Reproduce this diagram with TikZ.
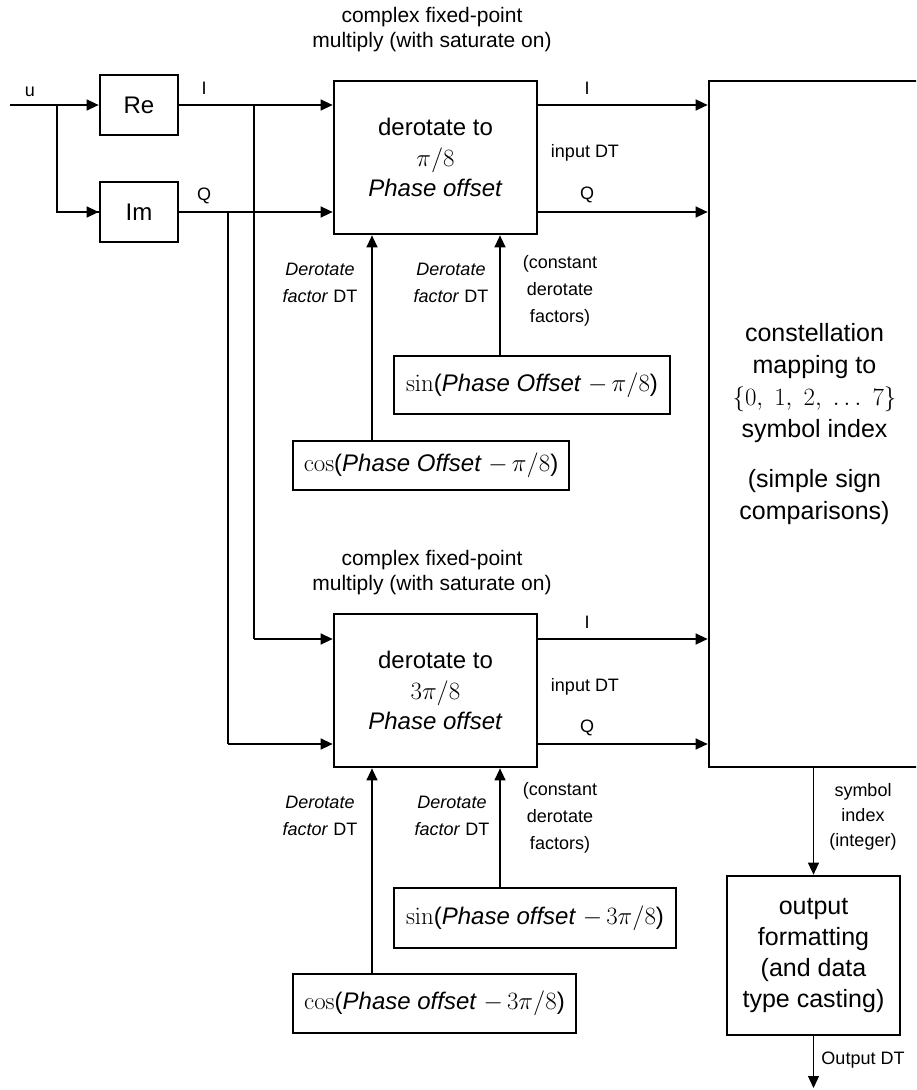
\documentclass[tikz,border=0pt]{standalone}
\usepackage[no-math]{fontspec}
\setmainfont{Liberation Sans}
\usetikzlibrary{arrows.meta}
\begin{document}
\begin{tikzpicture}[x=1pt,y=-1pt,
  box/.style={draw, line width=2.7pt, inner sep=0pt, align=center},
  boxtxt/.style={font=\fontsize{24}{30.5}\selectfont},
  arr/.style={line width=1.3pt, -{Triangle[length=12pt,width=11pt]}},
  ln/.style={line width=1.3pt},
  med/.style={font=\fontsize{21}{25}\selectfont, align=center, inner sep=0pt},
  lbl/.style={font=\fontsize{18}{27}\selectfont, align=center, inner sep=0pt},
]
\useasboundingbox (0,0) rectangle (916,1090);
\clip (0,0) rectangle (916,1090);

% blocks
\node[box, boxtxt, minimum width=78pt, minimum height=60pt] (re) at (139,105) {Re};
\node[box, boxtxt, minimum width=78pt, minimum height=60pt] (im) at (139,212) {Im};
\node[box, boxtxt, minimum width=203pt, minimum height=153pt] (rot1) at (435.5,157.5)
  {derotate to\\ $\pi/8$\\ \textit{Phase offset}};
\node[box, boxtxt, minimum width=203pt, minimum height=153pt] (rot2) at (435.5,690.5)
  {derotate to\\ $3\pi/8$\\ \textit{Phase offset}};
\node[box, boxtxt, minimum width=276pt, minimum height=49pt] (cos1) at (431,465.5)
  {$\cos$(\textit{Phase Offset} $-\,\pi/8$)};
\node[box, boxtxt, minimum width=276pt, minimum height=58pt] (sin1) at (532,385)
  {$\sin$(\textit{Phase Offset} $-\,\pi/8$)};
\node[box, boxtxt, minimum width=283pt, minimum height=59pt] (cos2) at (434.5,1003.5)
  {$\cos$(\textit{Phase offset} $-\,3\pi/8$)};
\node[box, boxtxt, minimum width=282pt, minimum height=60pt] (sin2) at (535,918)
  {$\sin$(\textit{Phase offset} $-\,3\pi/8$)};
\node[box, font=\fontsize{25}{32}\selectfont, minimum width=211pt, minimum height=686pt] (big) at (814.5,424)
  {constellation\\ mapping to\\ $\{0,\ 1,\ 2,\ \ldots\ 7\}$\\ symbol index\\[18pt] (simple sign\\ comparisons)};
\node[box, font=\fontsize{25}{31}\selectfont, minimum width=173pt, minimum height=159pt] (out) at (813.5,955.5)
  {output\\ formatting\\ (and data\\ type casting)};

% helper coordinates
\coordinate (uin) at (10,105);
\coordinate (br) at (57,105);
\coordinate (xi) at (254,0);
\coordinate (xq) at (228,0);
\coordinate (xc) at (372,0);
\coordinate (xs) at (500,0);
\coordinate (yout) at (0,1088);

% input split
\draw[arr] (uin) -- (re);
\draw[ln] (br) |- (im.west);
\draw[arr] (br |- im.west) -- (im.west);

% I and Q paths
\draw[arr] (re.east) -- (rot1.west |- re.east);
\draw[arr] (im.east) -- (rot1.west |- im.east);
\coordinate (i2) at (rot2.north west |- 0,639);
\coordinate (q2) at (rot2.north west |- 0,744);
\draw[ln] (re.east -| xi) -- (xi |- i2);
\draw[arr] (xi |- i2) -- (i2);
\draw[ln] (im.east -| xq) -- (xq |- q2);
\draw[arr] (xq |- q2) -- (q2);

% outputs of derotators
\draw[arr] (rot1.east |- re.east) -- (big.west |- re.east);
\draw[arr] (rot1.east |- im.east) -- (big.west |- im.east);
\draw[arr] (rot2.east |- i2) -- (big.west |- i2);
\draw[arr] (rot2.east |- q2) -- (big.west |- q2);

% factor inputs
\draw[arr] (cos1.north -| xc) -- (rot1.south -| xc);
\draw[arr] (sin1.north -| xs) -- (rot1.south -| xs);
\draw[arr] (cos2.north -| xc) -- (rot2.south -| xc);
\draw[arr] (sin2.north -| xs) -- (rot2.south -| xs);

% final path
\draw[arr] (big.south -| out.north) -- (out.north);
\draw[arr] (out.south) -- (out.south |- yout);

% labels
\node[lbl] (lu) at (30,92) {u};
\node[lbl] (li) at (204,88) {I};
\node[lbl] (lq) at (204,196) {Q};
\node[lbl] (lo1i) at (587,88) {I};
\node[lbl] (lo1d) at (585,153) {input DT};
\node[lbl] (lo1q) at (587,195) {Q};
\node[lbl] (lo2i) at (587,622) {I};
\node[lbl] (lo2d) at (585,687) {input DT};
\node[lbl] (lo2q) at (587,728) {Q};
\node[med] (cm1) at (432,30) {complex fixed-point\\ multiply (with saturate on)};
\node[med] (cm2) at (432,573) {complex fixed-point\\ multiply (with saturate on)};
\node[lbl] (df1a) at (320,283) {\textit{Derotate}\\ \textit{factor} DT};
\node[lbl] (df1b) at (451,283) {\textit{Derotate}\\ \textit{factor} DT};
\node[lbl] (cf1) at (560,291) {(constant\\ derotate\\ factors)};
\node[lbl] (df2a) at (320,816) {\textit{Derotate}\\ \textit{factor} DT};
\node[lbl] (df2b) at (452,816) {\textit{Derotate}\\ \textit{factor} DT};
\node[lbl] (cf2) at (560,818) {(constant\\ derotate\\ factors)};
\node[font=\fontsize{18}{25}\selectfont, align=center, inner sep=0pt] (si) at (863,817) {symbol\\ index\\ (integer)};
\node[lbl] (odt) at (863,1060) {Output DT};
\end{tikzpicture}
\end{document}
